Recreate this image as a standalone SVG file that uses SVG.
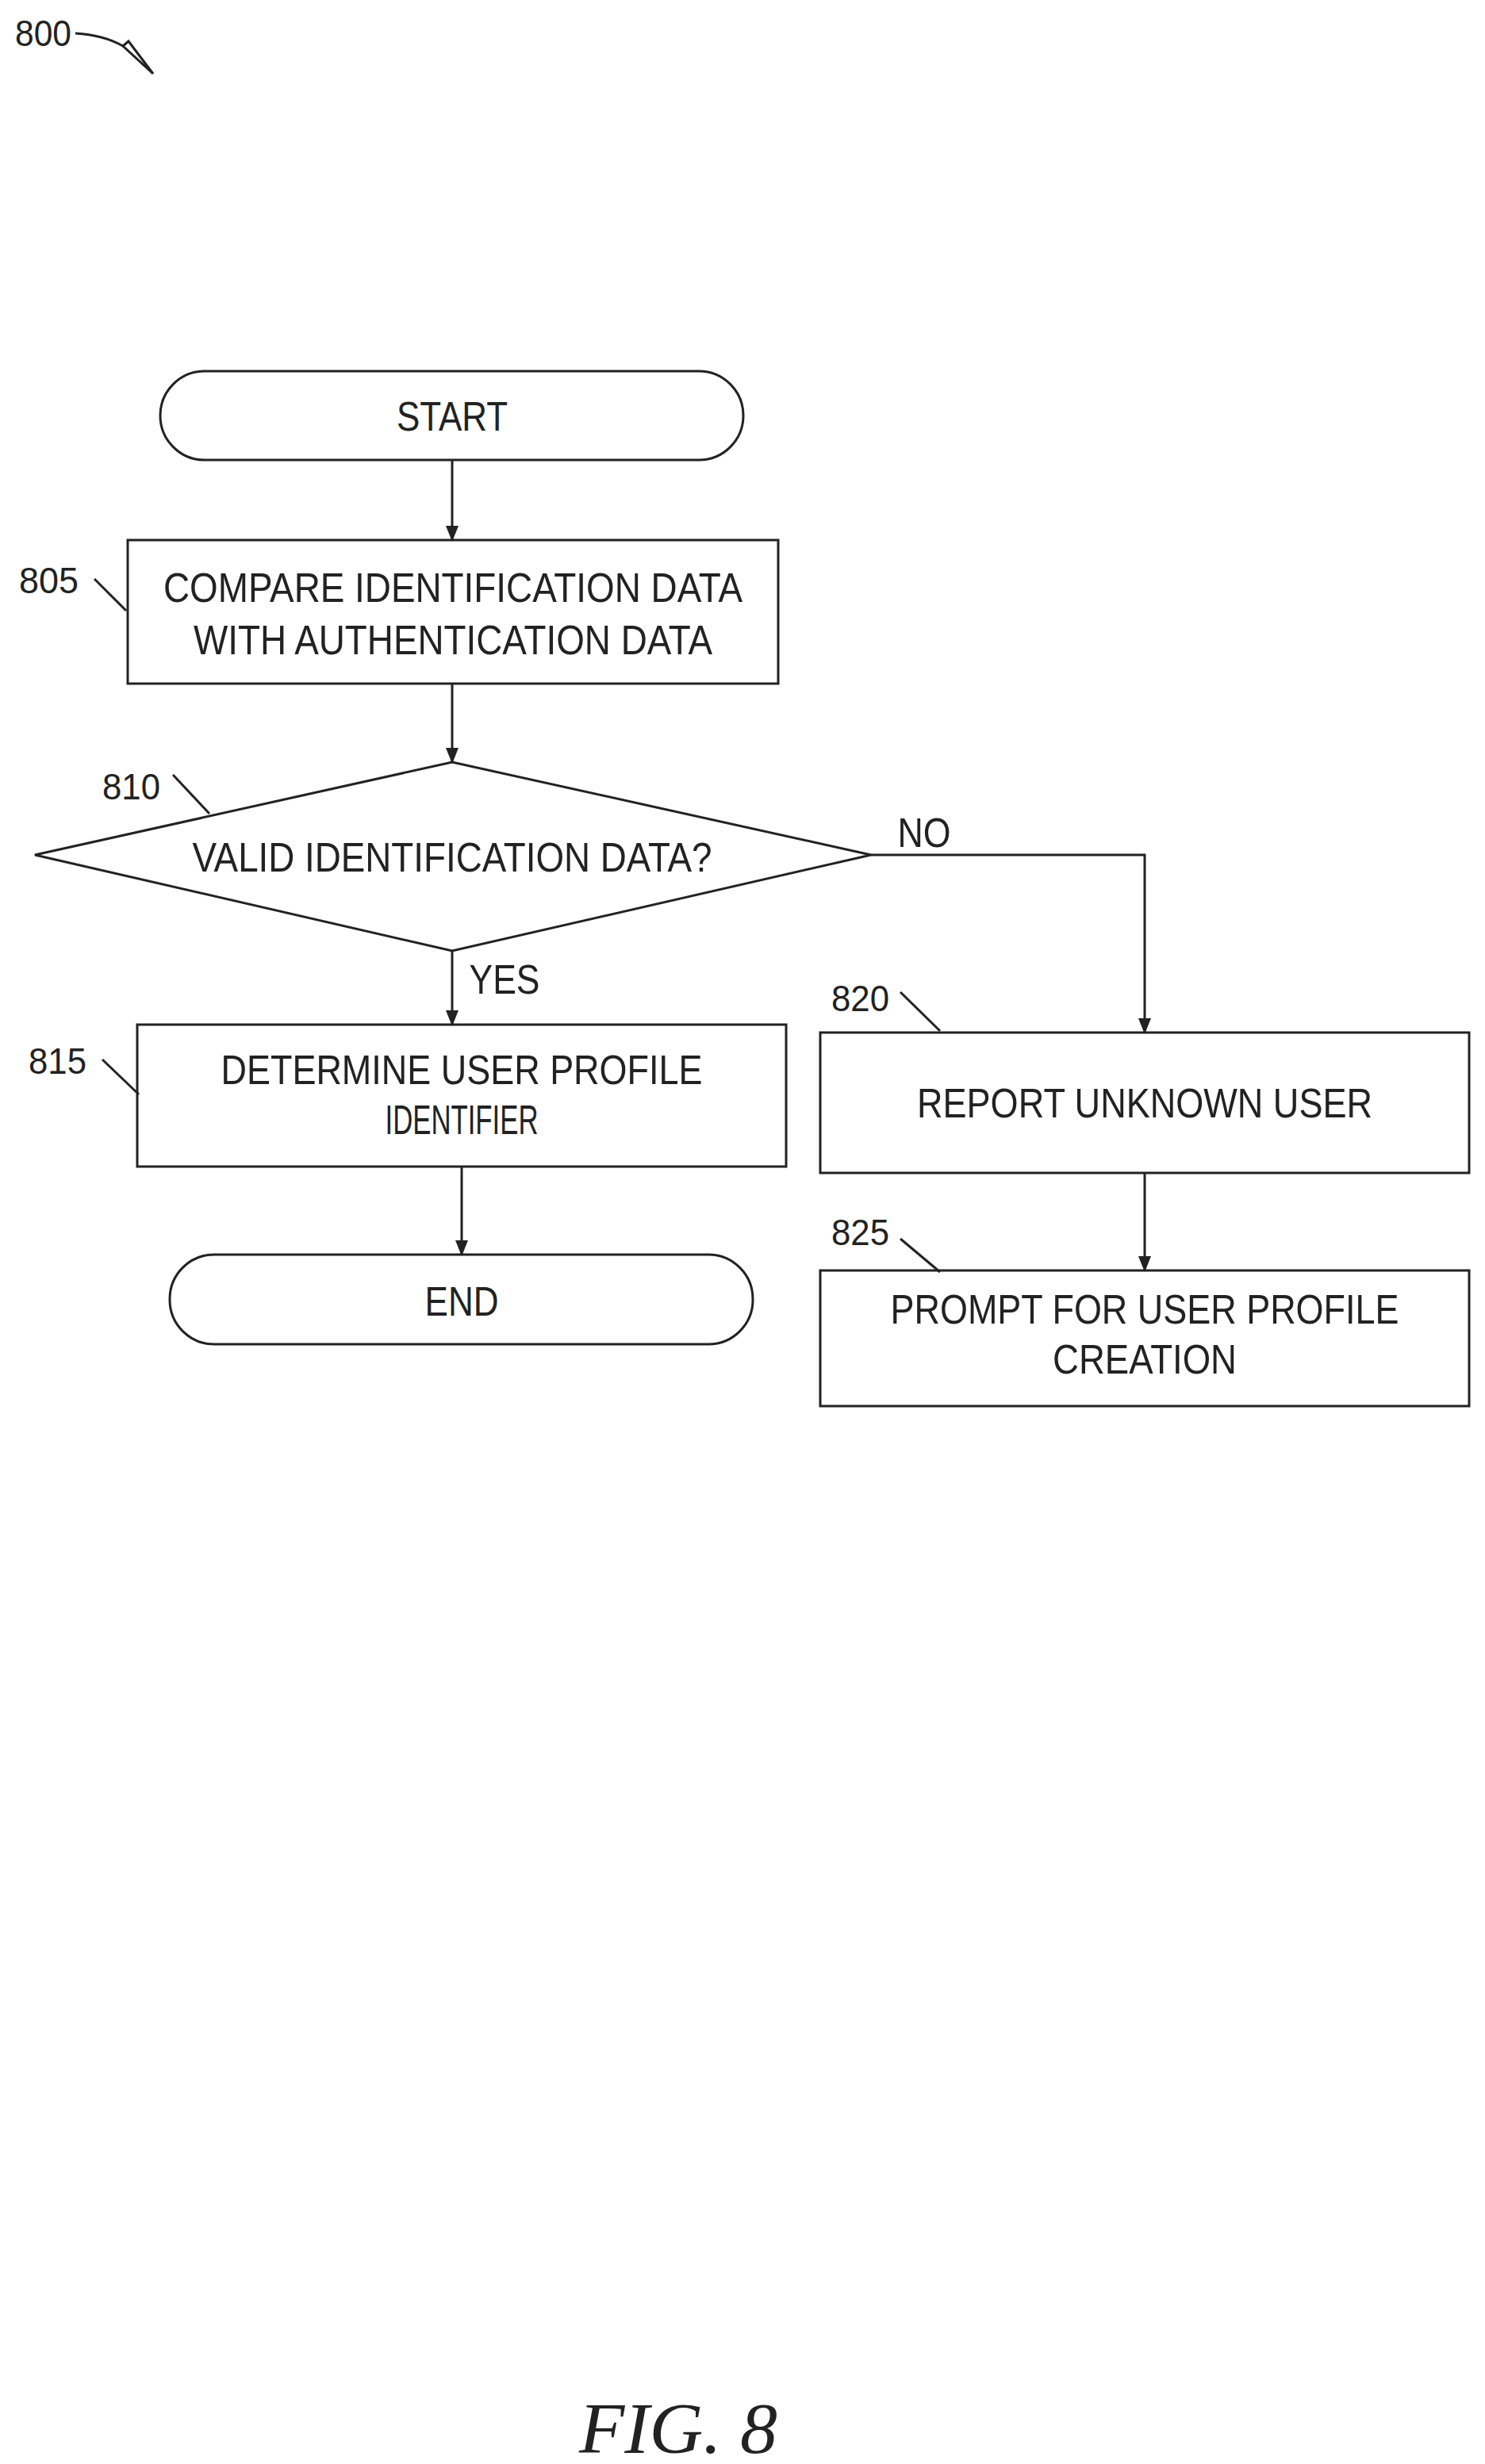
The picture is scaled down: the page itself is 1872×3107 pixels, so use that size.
<svg xmlns="http://www.w3.org/2000/svg" width="1872" height="3107" viewBox="0 0 1872 3107">
<style>
.s{fill:#fff;stroke:#222;stroke-width:3}
.l{fill:none;stroke:#222;stroke-width:3}
text{font-family:"Liberation Sans",Arial,sans-serif;font-size:52px;fill:#222;text-anchor:middle}
.n{font-size:46px;text-anchor:start}
</style>
<defs><marker id="a" markerWidth="20" markerHeight="40" refX="18" refY="10" orient="auto" markerUnits="userSpaceOnUse" viewBox="0 0 20 20"><path d="M0,2 L20,10 L0,18 z" fill="#222"/></marker></defs>
<g id="n800"><text class="n" x="19" y="58" textLength="71" lengthAdjust="spacingAndGlyphs">800</text><path class="l" d="M95,42 Q130,44 155,58"/><path class="l" d="M155,58 L162,52 L193,93 Z"/></g>
<g id="start"><rect class="s" x="202" y="468" width="735" height="112" rx="56"/><text x="570" y="543" textLength="140" lengthAdjust="spacingAndGlyphs">START</text></g>
<g id="n805"><rect class="s" x="161" y="681" width="820" height="181"/><text x="571" y="759" textLength="730" lengthAdjust="spacingAndGlyphs">COMPARE IDENTIFICATION DATA</text><text x="571" y="825" textLength="654" lengthAdjust="spacingAndGlyphs">WITH AUTHENTICATION DATA</text><text class="n" x="24" y="748" textLength="75" lengthAdjust="spacingAndGlyphs">805</text><path class="l" d="M119,730 L159,770"/></g>
<g id="n810"><polygon class="s" points="44,1078 570,961 1098,1078 570,1199"/><text x="570" y="1099" textLength="655" lengthAdjust="spacingAndGlyphs">VALID IDENTIFICATION DATA?</text><text class="n" x="129" y="1008" textLength="73" lengthAdjust="spacingAndGlyphs">810</text><path class="l" d="M218,977 L264,1026"/></g>
<g id="n815"><rect class="s" x="173" y="1292" width="818" height="179"/><text x="582" y="1367" textLength="607" lengthAdjust="spacingAndGlyphs">DETERMINE USER PROFILE</text><text x="582" y="1430" textLength="193" lengthAdjust="spacingAndGlyphs">IDENTIFIER</text><text class="n" x="36" y="1354" textLength="73" lengthAdjust="spacingAndGlyphs">815</text><path class="l" d="M129,1336 L175,1380"/></g>
<g id="end"><rect class="s" x="214" y="1582" width="735" height="113" rx="56"/><text x="582" y="1659" textLength="93" lengthAdjust="spacingAndGlyphs">END</text></g>
<g id="n820"><rect class="s" x="1034" y="1302" width="818" height="177"/><text x="1443" y="1409" textLength="574" lengthAdjust="spacingAndGlyphs">REPORT UNKNOWN USER</text><text class="n" x="1048" y="1275" textLength="73" lengthAdjust="spacingAndGlyphs">820</text><path class="l" d="M1135,1251 L1185,1300"/></g>
<g id="n825"><rect class="s" x="1034" y="1602" width="818" height="171"/><text x="1443" y="1669" textLength="641" lengthAdjust="spacingAndGlyphs">PROMPT FOR USER PROFILE</text><text x="1443" y="1732" textLength="232" lengthAdjust="spacingAndGlyphs">CREATION</text><text class="n" x="1048" y="1570" textLength="73" lengthAdjust="spacingAndGlyphs">825</text><path class="l" d="M1135,1562 L1185,1604"/></g>
<g id="connectors">
<path class="l" d="M570,580 L570,681" marker-end="url(#a)"/>
<path class="l" d="M570,862 L570,961" marker-end="url(#a)"/>
<path class="l" d="M570,1199 L570,1292" marker-end="url(#a)"/>
<path class="l" d="M1098,1078 L1443,1078 L1443,1302" marker-end="url(#a)"/>
<path class="l" d="M582,1471 L582,1582" marker-end="url(#a)"/>
<path class="l" d="M1443,1479 L1443,1602" marker-end="url(#a)"/>
<text x="636" y="1253" textLength="89" lengthAdjust="spacingAndGlyphs">YES</text>
<text x="1165" y="1068" textLength="67" lengthAdjust="spacingAndGlyphs">NO</text>
</g>
<text x="855" y="3093" style="font-family:'Liberation Serif',serif;font-style:italic;font-size:92px" textLength="250" lengthAdjust="spacingAndGlyphs">FIG. 8</text>
</svg>
